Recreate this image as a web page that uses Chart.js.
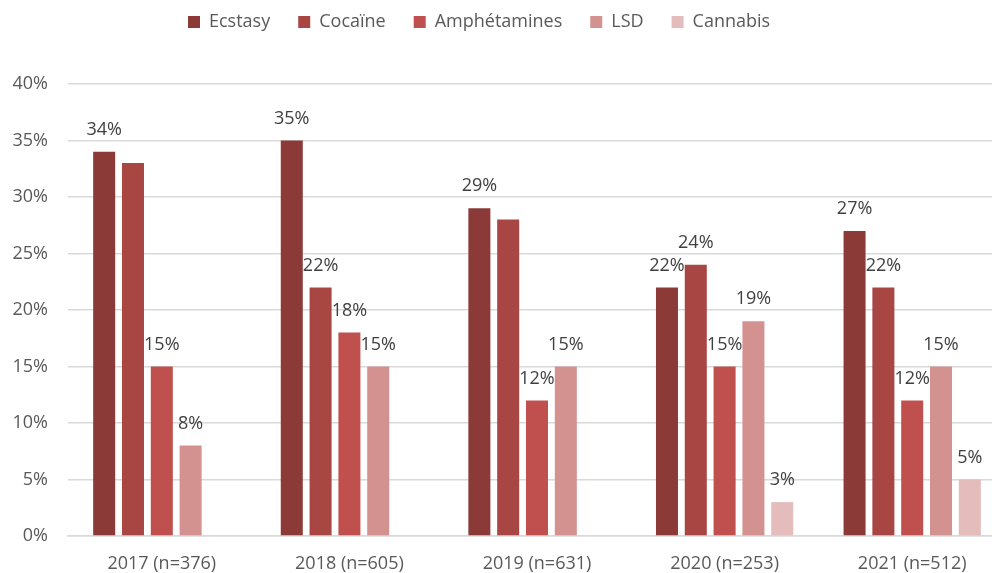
<!DOCTYPE html>
<html>
<head>
<meta charset="utf-8">
<script src="https://cdn.jsdelivr.net/npm/chart.js@4/dist/chart.umd.min.js"></script>
<style>
  html, body { margin: 0; padding: 0; background: #fff; overflow: hidden; }
  #wrap { width: 1006px; height: 573px; position: relative; }
</style>
</head>
<body>
<div id="wrap"><canvas id="myChart"></canvas></div>
<script>
// values (percent)
const years = ['2017 (n=376)', '2018 (n=605)', '2019 (n=631)', '2020 (n=253)', '2021 (n=512)'];
const ecstasy = [34, 35, 29, 22, 27];
const cocaine = [33, 22, 28, 24, 22];
const amphetamines = [15, 18, 12, 15, 12];
const lsd = [8, 15, 15, 19, 15];
const cannabis = [null, null, null, 3, 5];
const yTicks = [0, 5, 10, 15, 20, 25, 30, 35, 40];
// labels that the original chart does not show: [year index, series index]
const hiddenLabels = [[0, 1], [2, 1]];

const textColor = '#595959';
const fontFamily = "'Open Sans', sans-serif";

// draw the value above each bar
const valueLabels = {
    id: 'valueLabels',
    afterDatasetsDraw(chart) {
        const c = chart.ctx;
        c.save();
        c.font = '18px ' + fontFamily;
        c.fillStyle = '#404040';
        c.textAlign = 'center';
        c.textBaseline = 'middle';
        chart.data.datasets.forEach(function (ds, di) {
            const meta = chart.getDatasetMeta(di);
            meta.data.forEach(function (bar, i) {
                const v = ds.data[i];
                if (v == null) return;
                if (hiddenLabels.some(h => h[0] == i && h[1] == di)) return;
                c.fillText(v + '%', bar.x, bar.y - 22);
            });
        });
        c.restore();
    }
};

// move the legend to where the original has it
const legendPlace = {
    id: 'legendPlace',
    afterLayout(chart) {
        const lg = chart.legend;
        const pad = lg.options.labels.padding;
        const dy = (22 - pad - 9) - lg.top;
        const dx = (2 * 188 - lg.left - lg.right - pad + lg.lineWidths[0]) / 2;
        lg.top += dy; lg.bottom += dy;
        lg.left += dx; lg.right += dx;
    }
};

function series(label, data, color) {
    return {
        label: label,
        data: data,
        backgroundColor: color,
        borderWidth: 0,
        categoryPercentage: 0.768,
        barPercentage: 0.764
    };
}

let ctx = document.getElementById('myChart');
let myChart = new Chart(ctx, {
    type: 'bar',
    data: {
        labels: years,
        datasets: [
            series('Ecstasy', ecstasy, '#8C3A38'),
            series('Cocaïne', cocaine, '#A84644'),
            series('Amphétamines', amphetamines, '#C0504D'),
            series('LSD', lsd, '#D39190'),
            series('Cannabis', cannabis, '#E4BCBB')
        ]
    },
    options: {
        responsive: true,
        maintainAspectRatio: false,
        animation: false,
        layout: { padding: { top: 28, left: 0, right: 0, bottom: 0 } },
        plugins: {
            legend: {
                position: 'top',
                labels: {
                    boxWidth: 12,
                    boxHeight: 12,
                    padding: 28,
                    color: textColor,
                    font: { family: fontFamily, size: 18 }
                }
            },
            tooltip: { enabled: false }
        },
        scales: {
            x: {
                afterFit: function (scale) { scale.height = 37; },
                grid: { display: false, drawTicks: false },
                border: { color: '#d9d9d9', width: 1.5 },
                ticks: {
                    color: textColor,
                    padding: 17,
                    font: { family: fontFamily, size: 18 }
                }
            },
            y: {
                min: 0,
                max: 40,
                afterFit: function (scale) { scale.width = 68; },
                afterBuildTicks: function (scale) {
                    scale.ticks = yTicks.map(v => ({ value: v }));
                },
                grid: { color: '#d9d9d9', lineWidth: 1.5, drawTicks: false },
                border: { display: false },
                ticks: {
                    color: textColor,
                    padding: 20,
                    font: { family: fontFamily, size: 18 },
                    callback: function (v) { return v + '%'; }
                }
            }
        }
    },
    plugins: [valueLabels, legendPlace]
});
</script>
</body>
</html>
